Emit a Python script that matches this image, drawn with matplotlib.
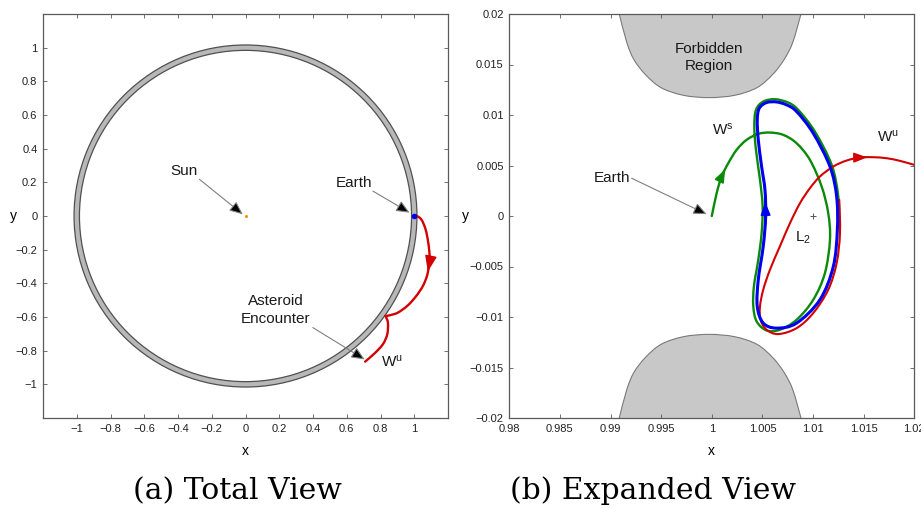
import numpy as np
import matplotlib
matplotlib.use("Agg")
import matplotlib.pyplot as plt
from matplotlib.patches import Wedge, Circle, PathPatch, FancyArrowPatch
from matplotlib.path import Path

plt.rcParams["font.family"] = ["Liberation Sans", "DejaVu Sans"]
plt.rcParams["mathtext.fontset"] = "custom"
plt.rcParams["mathtext.rm"] = "Liberation Sans"
plt.rcParams["mathtext.it"] = "Liberation Sans:italic"

# ---------------- data: total view (Sun-Earth rotating frame) ----------------
sun_pos = (0.0, 0.0)
earth_pos = (1.0, 0.0)
ring_inner, ring_outer = 0.984, 1.016

# unstable manifold W^u from Earth region to the asteroid encounter (cusp at index 12)
wu_total_x = [1.008, 1.0415, 1.067, 1.083, 1.091, 1.087, 1.075, 1.051, 1.012,
              0.962, 0.903, 0.854, 0.830, 0.844, 0.840, 0.814, 0.765, 0.709]
wu_total_y = [0.004, -0.020, -0.079, -0.158, -0.238, -0.297, -0.357, -0.416, -0.475,
              -0.531, -0.574, -0.590, -0.594, -0.634, -0.703, -0.762, -0.816, -0.865]
wu_total_cusp = 12

total_ticks = [-1, -0.8, -0.6, -0.4, -0.2, 0, 0.2, 0.4, 0.6, 0.8, 1]

# ---------------- data: expanded view near L2 ----------------
l2_pos = (1.01, 0.0)

# upper forbidden region boundary (lower one is its mirror image)
forbid_x = [0.99086, 0.99160, 0.99230, 0.99345, 0.99500, 0.99720, 0.99972,
            1.00225, 1.00445, 1.00600, 1.00715, 1.00800, 1.00881]
forbid_y = [0.0200, 0.0172, 0.0155, 0.0140, 0.0127, 0.01195, 0.01172,
            0.01195, 0.0127, 0.0140, 0.0155, 0.0172, 0.0200]

# periodic orbit about L2
orbit_x = [1.00532, 1.00525, 1.00492, 1.00459, 1.00449, 1.00469, 1.00541, 1.00640,
           1.00739, 1.00838, 1.01002, 1.01167, 1.01233, 1.01240, 1.01200, 1.01068,
           1.00838, 1.00640, 1.00508, 1.00449, 1.00459, 1.00508, 1.00532]
orbit_y = [-0.00005, 0.00259, 0.00490, 0.00754, 0.00951, 0.01067, 0.01123, 0.01129,
           0.01100, 0.01034, 0.00819, 0.00490, 0.00193, -0.00137, -0.00500, -0.00829,
           -0.01060, -0.01110, -0.01060, -0.00895, -0.00632, -0.00300, -0.00005]

# stable manifold W^s from Earth onto the orbit
ws_x = [1.00000, 1.00048, 1.00097, 1.00163, 1.00245, 1.00344, 1.00459, 1.00574,
        1.00706, 1.00838, 1.00969, 1.01085, 1.01150, 1.01167, 1.01117, 1.01002,
        1.00838, 1.00673, 1.00541, 1.00443, 1.00410, 1.00416, 1.00459, 1.00492,
        1.00502, 1.00476, 1.00436, 1.00420, 1.00436, 1.00508, 1.00624, 1.00755,
        1.00854, 1.01018, 1.01184, 1.01249, 1.01259]
ws_y = [0.00000, 0.00226, 0.00391, 0.00523, 0.00655, 0.00754, 0.00813, 0.00826,
        0.00803, 0.00720, 0.00556, 0.00292, 0.00028, -0.00236, -0.00566, -0.00829,
        -0.01027, -0.01126, -0.01133, -0.01044, -0.00895, -0.00697, -0.00434, -0.00170,
        0.00094, 0.00358, 0.00655, 0.00885, 0.01050, 0.01133, 0.01156, 0.01123,
        0.01050, 0.00836, 0.00506, 0.00193, -0.00104]

# unstable manifold W^u leaving the orbit
wu_x = [1.01259, 1.01266, 1.01233, 1.01150, 1.01002, 1.00838, 1.00657, 1.00541,
        1.00482, 1.00476, 1.00508, 1.00574, 1.00673, 1.00772, 1.00871, 1.00969,
        1.01068, 1.01200, 1.01331, 1.01463, 1.01595, 1.01727, 1.01858, 1.02000]
wu_y = [0.00160, -0.00170, -0.00467, -0.00730, -0.00961, -0.01110, -0.01169, -0.01126,
        -0.01027, -0.00895, -0.00730, -0.00533, -0.00300, -0.00071, 0.00127, 0.00275,
        0.00391, 0.00490, 0.00549, 0.00579, 0.00582, 0.00572, 0.00546, 0.00506]

exp_xticks = [0.98, 0.985, 0.99, 0.995, 1, 1.005, 1.01, 1.015, 1.02]
exp_yticks = [-0.02, -0.015, -0.01, -0.005, 0, 0.005, 0.01, 0.015, 0.02]

RED = "#d40000"
GREEN = "#0a8a0a"
BLUE = "#0000ee"
FRAME = "#5a5a5a"
TEXT = "#1a1a1a"


def fmt(v):
    return f"{v:g}".replace("-", "\u2212")


def smooth_path(xs, ys, closed=False):
    """Cubic Bezier path passing through every given point (Catmull-Rom tangents)."""
    p = np.column_stack([xs, ys]).astype(float)
    if closed:
        p = p[:-1]
    n = len(p)
    verts = [p[0]]
    codes = [Path.MOVETO]
    nseg = n if closed else n - 1
    for i in range(nseg):
        i0 = (i - 1) % n if closed else max(i - 1, 0)
        i1 = i
        i2 = (i + 1) % n if closed else i + 1
        i3 = (i + 2) % n if closed else min(i + 2, n - 1)
        c1 = p[i1] + (p[i2] - p[i0]) / 6.0
        c2 = p[i2] - (p[i3] - p[i1]) / 6.0
        verts += [c1, c2, p[i2]]
        codes += [Path.CURVE4] * 3
    return verts, codes


def draw_curve(ax, xs, ys, color, lw, closed=False, breaks=()):
    cuts = [0] + list(breaks) + [len(xs) - 1]
    for a, b in zip(cuts[:-1], cuts[1:]):
        v, c = smooth_path(xs[a:b + 1], ys[a:b + 1], closed=closed)
        ax.add_patch(PathPatch(Path(v, c), fill=False, edgecolor=color, lw=lw,
                               capstyle="round", joinstyle="round"))


def style_axes(ax, xticks, yticks):
    ax.set_xticks(xticks)
    ax.set_yticks(yticks)
    ax.set_xticklabels([fmt(v) for v in xticks])
    ax.set_yticklabels([fmt(v) for v in yticks])
    ax.tick_params(direction="in", length=3, width=0.6, color=FRAME,
                   labelsize=8, top=True, right=True, pad=4, labelcolor="#222222")
    for s in ax.spines.values():
        s.set_color(FRAME)
        s.set_linewidth(0.9)


def curve_arrow(ax, xs, ys, i, color, scale=11):
    """Arrowhead on a curve at segment i, pointing along the curve."""
    x0, y0 = xs[i], ys[i]
    x1, y1 = xs[i + 1], ys[i + 1]
    tip = (x0 + 0.55 * (x1 - x0), y0 + 0.55 * (y1 - y0))
    base = (x0 + 0.54 * (x1 - x0), y0 + 0.54 * (y1 - y0))
    ax.annotate("", xy=tip, xytext=base,
                arrowprops=dict(arrowstyle="-|>,head_length=0.75,head_width=0.28",
                                color=color, lw=1.0, shrinkA=0, shrinkB=0,
                                mutation_scale=scale))


def pointer(ax, text_xy, start, end, text, **kw):
    ax.text(text_xy[0], text_xy[1], text, fontsize=11, ha="center", va="center",
            color=TEXT, **kw)
    arr = FancyArrowPatch(start, end, arrowstyle="-|>,head_length=0.8,head_width=0.35",
                          mutation_scale=10, linewidth=0.8, edgecolor="#808080",
                          facecolor="black", shrinkA=0, shrinkB=0)
    ax.add_patch(arr)


fig = plt.figure(figsize=(9.21, 5.08), dpi=100)
ax1 = fig.add_axes([43 / 921, 90 / 508, 405 / 921, 404 / 508])
ax2 = fig.add_axes([509.3 / 921, 90 / 508, 405 / 921, 404 / 508])

# ---------------- total view ----------------
ax1.add_patch(Wedge(sun_pos, ring_outer, 0, 360, width=ring_outer - ring_inner,
                    facecolor="#b8b8b8", edgecolor="none"))
for r in (ring_inner, ring_outer):
    ax1.add_patch(Circle(sun_pos, r, fill=False, edgecolor="#505050", linewidth=0.9))

draw_curve(ax1, wu_total_x, wu_total_y, RED, 1.7, breaks=(wu_total_cusp,))
curve_arrow(ax1, wu_total_x, wu_total_y, 5, RED, 13)
ax1.plot(*sun_pos, "o", color="#ff8c00", ms=2.2, mec="none")
ax1.plot(*earth_pos, "o", color=BLUE, ms=4, mec="none")

pointer(ax1, (-0.366, 0.267), (-0.273, 0.218), (-0.016, 0.010), "Sun")
pointer(ax1, (0.640, 0.194), (0.755, 0.148), (0.972, 0.020), "Earth")
pointer(ax1, (0.178, -0.559), (0.399, -0.663), (0.706, -0.852),
        "Asteroid\nEncounter", linespacing=1.35)
ax1.text(0.80, -0.865, r"W$^{\rm u}$", fontsize=11, ha="left", va="center", color=TEXT)

ax1.set_xlim(-1.2, 1.2)
ax1.set_ylim(-1.2, 1.2)
style_axes(ax1, total_ticks, total_ticks)
ax1.set_xlabel("x", fontsize=10)
ax1.set_ylabel("y", fontsize=10, rotation=0, ha="center", va="center")
ax1.xaxis.set_label_coords(0.5, -0.065)
ax1.yaxis.set_label_coords(-0.074, 0.5)

# ---------------- expanded view ----------------
for sign in (1, -1):
    fy = [sign * v for v in forbid_y]
    v, c = smooth_path(forbid_x, fy)
    v = v + [(forbid_x[-1], sign * 0.03), (forbid_x[0], sign * 0.03), v[0]]
    c = c + [Path.LINETO, Path.LINETO, Path.CLOSEPOLY]
    ax2.add_patch(PathPatch(Path(v, c), facecolor="#c8c8c8", edgecolor="none"))
    bv, bc = smooth_path(forbid_x, fy)
    ax2.add_patch(PathPatch(Path(bv, bc), fill=False, edgecolor="#7a7a7a", lw=0.8))

draw_curve(ax2, ws_x, ws_y, GREEN, 1.7)
draw_curve(ax2, wu_x, wu_y, RED, 1.5)
draw_curve(ax2, orbit_x, orbit_y, BLUE, 2.2, closed=True)
curve_arrow(ax2, ws_x, ws_y, 2, GREEN)
curve_arrow(ax2, orbit_x, orbit_y, 0, BLUE)
curve_arrow(ax2, wu_x, wu_y, 19, RED)
ax2.plot(*l2_pos, "+", color="#555555", ms=5, mew=0.7)

ax2.text(0.99975, 0.0157, "Forbidden\nRegion", fontsize=11, ha="center",
         va="center", color=TEXT, linespacing=1.35)
pointer(ax2, (0.99011, 0.00374), (0.99208, 0.00374), (0.99949, 0.00018), "Earth")
ax2.text(1.00113, 0.00852, r"W$^{\rm s}$", fontsize=11, ha="center", va="center", color=TEXT)
ax2.text(1.01743, 0.00786, r"W$^{\rm u}$", fontsize=11, ha="center", va="center", color=TEXT)
ax2.text(1.0090, -0.0022, r"L$_2$", fontsize=11, ha="center", va="center", color=TEXT)

ax2.set_xlim(0.98, 1.02)
ax2.set_ylim(-0.02, 0.02)
style_axes(ax2, exp_xticks, exp_yticks)
ax2.set_xlabel("x", fontsize=10)
ax2.set_ylabel("y", fontsize=10, rotation=0, ha="center", va="center")
ax2.xaxis.set_label_coords(0.5, -0.065)
ax2.yaxis.set_label_coords(-0.109, 0.5)

# ---------------- captions ----------------
fig.text(237 / 921, 1 - 491 / 508, "(a) Total View", fontsize=21.5,
         family="DejaVu Serif", ha="center", va="center")
fig.text(653 / 921, 1 - 491 / 508, "(b) Expanded View", fontsize=21.5,
         family="DejaVu Serif", ha="center", va="center")

fig.savefig("out.png", dpi=100)
